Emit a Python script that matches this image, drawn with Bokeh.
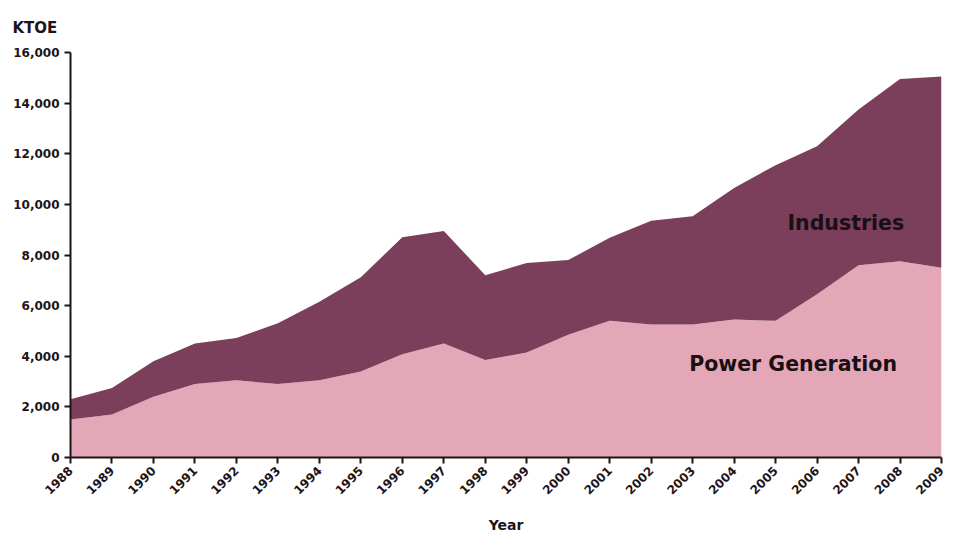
import math
from bokeh.plotting import figure
from bokeh.models import ColumnDataSource, Label, NumeralTickFormatter, FixedTicker, Range1d
from bokeh.embed import file_html
from bokeh.resources import INLINE

years = list(range(1988, 2010))
power_generation = [1500, 1700, 2400, 2900, 3050, 2900, 3050, 3400, 4080, 4500, 3850,
                    4150, 4850, 5400, 5250, 5250, 5450, 5400, 6450, 7600, 7750, 7500]
total = [2300, 2750, 3800, 4500, 4720, 5300, 6150, 7120, 8700, 8950, 7200,
         7680, 7800, 8680, 9350, 9530, 10650, 11550, 12300, 13750, 14950, 15050]
industries = [t - pg for t, pg in zip(total, power_generation)]
y_ticks = [0, 2000, 4000, 6000, 8000, 10000, 12000, 14000, 16000]

PINK = "#e3a7b7"
MAUVE = "#7b3e5b"
INK = "#1e1418"
FONT = "DejaVu Sans"

src = ColumnDataSource(dict(year=years, power=power_generation, industries=industries))

p = figure(width=947, height=536, output_backend="svg", toolbar_location=None,
           x_range=Range1d(1988, 2009), y_range=Range1d(0, 16000),
           min_border_left=70, min_border_right=6, min_border_top=51, min_border_bottom=79,
           background_fill_color="white", border_fill_color="white")
p.outline_line_color = None
p.xgrid.visible = False
p.ygrid.visible = False

p.title.text = "KTOE"
p.title.align = "left"
p.title.offset = -58
p.title.standoff = 32
p.title.text_font = FONT
p.title.text_font_style = "bold"
p.title.text_font_size = "15px"
p.title.text_color = INK

p.varea_stack(stackers=["power", "industries"], x="year", color=[PINK, MAUVE], source=src)

for ax in (p.xaxis, p.yaxis):
    ax.axis_line_color = INK
    ax.axis_line_width = 2
    ax.major_tick_line_color = INK
    ax.major_tick_line_width = 2
    ax.major_tick_out = 6
    ax.major_tick_in = 0
    ax.minor_tick_line_color = None
    ax.major_label_text_font = FONT
    ax.major_label_text_font_style = "bold"
    ax.major_label_text_font_size = "12px"
    ax.major_label_text_color = INK

p.xaxis.ticker = FixedTicker(ticks=years)
p.xaxis.major_label_orientation = math.pi / 4
p.xaxis.axis_label = "Year"
p.xaxis.axis_label_text_font = FONT
p.xaxis.axis_label_text_font_style = "bold"
p.xaxis.axis_label_text_font_size = "14px"
p.xaxis.axis_label_text_color = INK
p.xaxis.axis_label_standoff = 16

p.yaxis.ticker = FixedTicker(ticks=y_ticks)
p.yaxis.formatter = NumeralTickFormatter(format="0,0")

p.add_layout(Label(x=2008.1, y=9250, text="Industries", text_align="right",
                   text_baseline="middle", text_font=FONT, text_font_style="bold",
                   text_font_size="20.5px", text_color="#1a0f14"))
p.add_layout(Label(x=2008.1, y=3700, text="Power  Generation", text_align="right",
                   text_baseline="middle", text_font=FONT, text_font_style="bold",
                   text_font_size="20.5px", text_color="#1a0f14"))

open("out.html", "w").write(file_html(p, INLINE))
